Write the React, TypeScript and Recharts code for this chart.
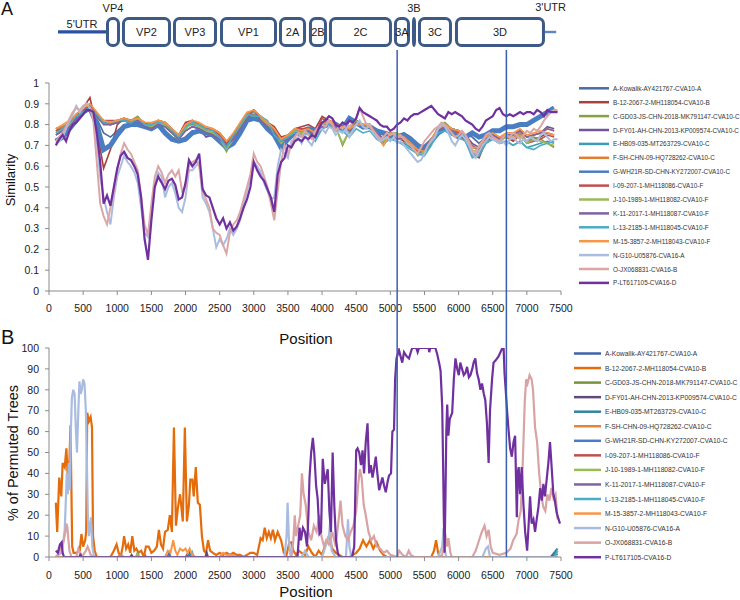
import React from 'react';
import { LineChart, Line, XAxis, YAxis, ReferenceArea, ReferenceLine } from 'recharts';

const FONT = "'Liberation Sans', Arial, Helvetica, sans-serif";

const SERIES_NAMES = [
  'A-Kowalik-AY421767-CVA10-A',
  'B-12-2067-2-MH118054-CVA10-B',
  'C-GD03-JS-CHN-2018-MK791147-CVA10-C',
  'D-FY01-AH-CHN-2013-KP009574-CVA10-C',
  'E-HB09-035-MT263729-CVA10-C',
  'F-SH-CHN-09-HQ728262-CVA10-C',
  'G-WH21R-SD-CHN-KY272007-CVA10-C',
  'I-09-207-1-MH118086-CVA10-F',
  'J-10-1989-1-MH118082-CVA10-F',
  'K-11-2017-1-MH118087-CVA10-F',
  'L-13-2185-1-MH118045-CVA10-F',
  'M-15-3857-2-MH118043-CVA10-F',
  'N-G10-U05876-CVA16-A',
  'O-JX068831-CVA16-B',
  'P-LT617105-CVA16-D',
];

const COLORS_A = ['#4A6CA3', '#A5403D', '#86A046', '#6E5596', '#3E9DB5', '#E07F34', '#4A7EC3', '#C0504D', '#9BBB59', '#8064A2', '#4BACC6', '#F79646', '#AABDE0', '#DBA6A6', '#7030A0'];
const COLORS_B = ['#3E65AA', '#E46C0A', '#77933C', '#604A7B', '#31859C', '#E8833A', '#4A7BC8', '#C0504D', '#9BBB59', '#8064A2', '#4BACC6', '#F79646', '#A9BCE0', '#D9A3A3', '#7030A0'];

const X_TICKS = [0, 500, 1000, 1500, 2000, 2500, 3000, 3500, 4000, 4500, 5000, 5500, 6000, 6500, 7000, 7500];
const Y_TICKS_A = [0, 0.1, 0.2, 0.3, 0.4, 0.5, 0.6, 0.7, 0.8, 0.9, 1];
const Y_TICKS_B = [0, 10, 20, 30, 40, 50, 60, 70, 80, 90, 100];

// genome map
const GENES = ['VP4', 'VP2', 'VP3', 'VP1', '2A', '2B', '2C', '3A', '3B', '3C', '3D'];
const GENE_START = [835, 1069, 1816, 2505, 3369, 3808, 4101, 5053, 5317, 5405, 5947];
const GENE_END = [1040, 1787, 2461, 3340, 3765, 4072, 5024, 5288, 5376, 5903, 7265];
const GENES_LABEL_ABOVE = ['VP4', '3B'];
const UTR_NAMES = ["5'UTR", "3'UTR"];
const UTR_START = [132, 7265];
const UTR_END = [835, 7430];
const BREAKPOINTS = [5100, 6700];

const POS100 = [
  100, 200, 300, 400, 500, 600, 700, 800, 900, 1000,
  1100, 1200, 1300, 1400, 1500, 1600, 1700, 1800, 1900, 2000,
  2100, 2200, 2300, 2400, 2500, 2600, 2700, 2800, 2900, 3000,
  3100, 3200, 3300, 3400, 3500, 3600, 3700, 3800, 3900, 4000,
  4100, 4200, 4300, 4400, 4500, 4600, 4700, 4800, 4900, 5000,
  5100, 5200, 5300, 5400, 5500, 5600, 5700, 5800, 5900, 6000,
  6100, 6200, 6300, 6400, 6500, 6600, 6700, 6800, 6900, 7000,
  7100, 7200, 7300, 7400];

const POS50 = [
  100, 150, 200, 250, 300, 350, 400, 450, 500, 550,
  600, 650, 700, 750, 800, 850, 900, 950, 1000, 1050,
  1100, 1150, 1200, 1250, 1300, 1350, 1400, 1450, 1500, 1550,
  1600, 1650, 1700, 1750, 1800, 1850, 1900, 1950, 2000, 2050,
  2100, 2150, 2200, 2250, 2300, 2350, 2400, 2450, 2500, 2550,
  2600, 2650, 2700, 2750, 2800, 2850, 2900, 2950, 3000, 3050,
  3100, 3150, 3200, 3250, 3300, 3350, 3400, 3450, 3500, 3550,
  3600, 3650, 3700, 3750, 3800, 3850, 3900, 3950, 4000, 4050,
  4100, 4150, 4200, 4250, 4300, 4350, 4400, 4450, 4500, 4550,
  4600, 4650, 4700, 4750, 4800, 4850, 4900, 4950, 5000, 5050,
  5100, 5150, 5200, 5250, 5300, 5350, 5400, 5450, 5500, 5550,
  5600, 5650, 5700, 5750, 5800, 5850, 5900, 5950, 6000, 6050,
  6100, 6150, 6200, 6250, 6300, 6350, 6400, 6450, 6500, 6550,
  6600, 6650, 6700, 6750, 6800, 6850, 6900, 6950, 7000, 7050,
  7100, 7150, 7200, 7250, 7300, 7350, 7400, 7450];

// ---- Panel A: similarity (values on POS100) ----
const SIM_A = [
  0.72, 0.75, 0.79, 0.83, 0.86, 0.88, 0.83, 0.76, 0.74, 0.77,
  0.80, 0.80, 0.81, 0.79, 0.78, 0.80, 0.77, 0.74, 0.72, 0.74,
  0.77, 0.77, 0.76, 0.75, 0.72, 0.69, 0.72, 0.77, 0.82, 0.84,
  0.82, 0.79, 0.74, 0.69, 0.73, 0.76, 0.77, 0.78, 0.77, 0.79,
  0.80, 0.79, 0.78, 0.83, 0.81, 0.79, 0.79, 0.76, 0.75, 0.76,
  0.75, 0.76, 0.74, 0.70, 0.70, 0.73, 0.76, 0.78, 0.77, 0.76,
  0.75, 0.74, 0.71, 0.74, 0.77, 0.77, 0.78, 0.79, 0.80, 0.80,
  0.82, 0.84, 0.86, 0.87];
const SIM_B = [
  0.78, 0.79, 0.80, 0.84, 0.88, 0.93, 0.78, 0.59, 0.68, 0.80,
  0.83, 0.82, 0.83, 0.81, 0.80, 0.82, 0.81, 0.78, 0.75, 0.81,
  0.82, 0.80, 0.78, 0.78, 0.76, 0.72, 0.75, 0.80, 0.85, 0.87,
  0.84, 0.81, 0.79, 0.74, 0.75, 0.78, 0.79, 0.80, 0.78, 0.84,
  0.82, 0.80, 0.77, 0.78, 0.81, 0.79, 0.80, 0.76, 0.73, 0.75,
  0.74, 0.72, 0.70, 0.68, 0.68, 0.72, 0.77, 0.79, 0.78, 0.77,
  0.73, 0.66, 0.64, 0.72, 0.74, 0.73, 0.74, 0.72, 0.75, 0.72,
  0.73, 0.74, 0.76, 0.75];
const SIM_C = [
  0.77, 0.79, 0.81, 0.85, 0.87, 0.88, 0.83, 0.81, 0.80, 0.82,
  0.83, 0.82, 0.84, 0.80, 0.78, 0.81, 0.80, 0.76, 0.73, 0.78,
  0.81, 0.79, 0.77, 0.75, 0.73, 0.67, 0.73, 0.78, 0.83, 0.85,
  0.82, 0.80, 0.76, 0.71, 0.73, 0.76, 0.75, 0.76, 0.74, 0.79,
  0.81, 0.79, 0.70, 0.77, 0.82, 0.79, 0.80, 0.75, 0.72, 0.76,
  0.75, 0.74, 0.71, 0.66, 0.68, 0.72, 0.79, 0.81, 0.78, 0.77,
  0.75, 0.66, 0.67, 0.73, 0.75, 0.73, 0.75, 0.74, 0.76, 0.72,
  0.74, 0.73, 0.71, 0.69];
const SIM_D = [
  0.75, 0.77, 0.79, 0.83, 0.86, 0.89, 0.85, 0.81, 0.80, 0.81,
  0.82, 0.81, 0.82, 0.79, 0.78, 0.80, 0.79, 0.76, 0.73, 0.77,
  0.79, 0.78, 0.74, 0.75, 0.73, 0.71, 0.73, 0.78, 0.83, 0.86,
  0.82, 0.79, 0.76, 0.72, 0.74, 0.76, 0.75, 0.76, 0.75, 0.79,
  0.81, 0.79, 0.78, 0.77, 0.82, 0.80, 0.80, 0.76, 0.73, 0.76,
  0.73, 0.74, 0.71, 0.69, 0.69, 0.73, 0.77, 0.79, 0.78, 0.77,
  0.75, 0.71, 0.69, 0.74, 0.75, 0.73, 0.75, 0.75, 0.77, 0.74,
  0.75, 0.76, 0.79, 0.78];
const SIM_E = [
  0.77, 0.78, 0.81, 0.84, 0.87, 0.89, 0.84, 0.81, 0.80, 0.81,
  0.82, 0.80, 0.82, 0.80, 0.79, 0.81, 0.80, 0.77, 0.74, 0.79,
  0.80, 0.79, 0.77, 0.76, 0.73, 0.69, 0.74, 0.79, 0.84, 0.86,
  0.84, 0.80, 0.76, 0.71, 0.73, 0.76, 0.74, 0.76, 0.74, 0.78,
  0.81, 0.78, 0.78, 0.76, 0.80, 0.78, 0.79, 0.74, 0.71, 0.74,
  0.72, 0.71, 0.69, 0.67, 0.66, 0.71, 0.77, 0.78, 0.76, 0.75,
  0.73, 0.65, 0.66, 0.71, 0.73, 0.71, 0.72, 0.70, 0.72, 0.69,
  0.70, 0.71, 0.72, 0.71];
const SIM_F = [
  0.78, 0.79, 0.81, 0.85, 0.88, 0.90, 0.85, 0.82, 0.81, 0.82,
  0.83, 0.82, 0.83, 0.81, 0.80, 0.82, 0.81, 0.78, 0.75, 0.79,
  0.81, 0.80, 0.79, 0.78, 0.75, 0.71, 0.75, 0.80, 0.85, 0.87,
  0.84, 0.81, 0.78, 0.73, 0.75, 0.77, 0.77, 0.78, 0.76, 0.80,
  0.82, 0.81, 0.79, 0.78, 0.81, 0.79, 0.80, 0.75, 0.70, 0.75,
  0.73, 0.73, 0.70, 0.68, 0.67, 0.72, 0.77, 0.79, 0.77, 0.76,
  0.74, 0.69, 0.68, 0.73, 0.76, 0.74, 0.75, 0.74, 0.76, 0.74,
  0.75, 0.76, 0.78, 0.77];
const SIM_G = [
  0.72, 0.74, 0.78, 0.82, 0.86, 0.88, 0.80, 0.68, 0.70, 0.75,
  0.79, 0.80, 0.80, 0.79, 0.78, 0.80, 0.76, 0.73, 0.72, 0.73,
  0.76, 0.77, 0.76, 0.75, 0.72, 0.69, 0.71, 0.76, 0.82, 0.83,
  0.82, 0.78, 0.75, 0.69, 0.73, 0.76, 0.77, 0.78, 0.77, 0.79,
  0.80, 0.80, 0.78, 0.83, 0.81, 0.79, 0.79, 0.77, 0.76, 0.75,
  0.74, 0.75, 0.73, 0.70, 0.68, 0.72, 0.76, 0.78, 0.76, 0.74,
  0.74, 0.76, 0.74, 0.75, 0.77, 0.77, 0.79, 0.79, 0.80, 0.80,
  0.82, 0.84, 0.86, 0.88];
const SIM_I = [
  0.77, 0.78, 0.80, 0.85, 0.87, 0.90, 0.85, 0.82, 0.82, 0.82,
  0.83, 0.82, 0.82, 0.81, 0.79, 0.81, 0.81, 0.77, 0.74, 0.80,
  0.82, 0.80, 0.78, 0.77, 0.75, 0.71, 0.74, 0.79, 0.84, 0.86,
  0.83, 0.80, 0.77, 0.73, 0.74, 0.78, 0.78, 0.78, 0.76, 0.83,
  0.81, 0.79, 0.78, 0.77, 0.81, 0.80, 0.80, 0.76, 0.73, 0.76,
  0.74, 0.73, 0.70, 0.67, 0.67, 0.73, 0.78, 0.80, 0.78, 0.76,
  0.72, 0.65, 0.65, 0.73, 0.75, 0.73, 0.74, 0.73, 0.75, 0.71,
  0.72, 0.73, 0.75, 0.74];
const SIM_J = [
  0.76, 0.77, 0.80, 0.84, 0.86, 0.88, 0.84, 0.81, 0.81, 0.82,
  0.82, 0.81, 0.83, 0.80, 0.79, 0.81, 0.80, 0.76, 0.73, 0.78,
  0.81, 0.79, 0.77, 0.76, 0.73, 0.68, 0.73, 0.79, 0.84, 0.86,
  0.83, 0.80, 0.76, 0.71, 0.74, 0.77, 0.76, 0.77, 0.75, 0.80,
  0.81, 0.79, 0.71, 0.77, 0.82, 0.79, 0.79, 0.76, 0.72, 0.76,
  0.76, 0.73, 0.71, 0.65, 0.67, 0.72, 0.78, 0.80, 0.78, 0.77,
  0.75, 0.67, 0.68, 0.73, 0.75, 0.72, 0.74, 0.73, 0.75, 0.71,
  0.73, 0.72, 0.71, 0.70];
const SIM_K = [
  0.75, 0.77, 0.79, 0.83, 0.86, 0.88, 0.84, 0.80, 0.80, 0.81,
  0.82, 0.81, 0.82, 0.79, 0.78, 0.80, 0.79, 0.76, 0.73, 0.77,
  0.79, 0.78, 0.76, 0.75, 0.73, 0.70, 0.73, 0.78, 0.83, 0.87,
  0.82, 0.79, 0.76, 0.72, 0.73, 0.76, 0.75, 0.77, 0.75, 0.79,
  0.80, 0.79, 0.78, 0.77, 0.81, 0.79, 0.80, 0.76, 0.73, 0.76,
  0.73, 0.74, 0.71, 0.68, 0.68, 0.73, 0.77, 0.79, 0.78, 0.77,
  0.75, 0.70, 0.68, 0.73, 0.75, 0.73, 0.75, 0.75, 0.77, 0.74,
  0.75, 0.76, 0.78, 0.77];
const SIM_L = [
  0.76, 0.78, 0.81, 0.84, 0.86, 0.88, 0.85, 0.81, 0.81, 0.82,
  0.82, 0.81, 0.83, 0.80, 0.80, 0.81, 0.81, 0.77, 0.74, 0.79,
  0.81, 0.80, 0.78, 0.77, 0.74, 0.69, 0.75, 0.80, 0.85, 0.84,
  0.84, 0.82, 0.75, 0.72, 0.74, 0.76, 0.75, 0.76, 0.72, 0.78,
  0.80, 0.77, 0.77, 0.74, 0.78, 0.76, 0.77, 0.73, 0.71, 0.73,
  0.72, 0.70, 0.68, 0.66, 0.65, 0.70, 0.76, 0.77, 0.75, 0.74,
  0.72, 0.64, 0.65, 0.71, 0.73, 0.71, 0.72, 0.70, 0.72, 0.69,
  0.68, 0.70, 0.71, 0.72];
const SIM_M = [
  0.78, 0.80, 0.82, 0.85, 0.88, 0.90, 0.86, 0.82, 0.81, 0.82,
  0.83, 0.82, 0.83, 0.81, 0.81, 0.82, 0.81, 0.78, 0.75, 0.80,
  0.82, 0.81, 0.79, 0.78, 0.76, 0.72, 0.76, 0.81, 0.86, 0.87,
  0.84, 0.81, 0.78, 0.73, 0.75, 0.78, 0.77, 0.78, 0.76, 0.81,
  0.82, 0.80, 0.79, 0.78, 0.80, 0.80, 0.80, 0.75, 0.70, 0.76,
  0.74, 0.74, 0.71, 0.68, 0.67, 0.73, 0.78, 0.80, 0.78, 0.77,
  0.75, 0.69, 0.69, 0.74, 0.76, 0.74, 0.76, 0.76, 0.78, 0.75,
  0.76, 0.77, 0.76, 0.75];
// (values on POS50)
const SIM_N = [
  0.71, 0.72, 0.74, 0.78, 0.82, 0.85, 0.89, 0.86, 0.88, 0.90,
  0.88, 0.84, 0.72, 0.55, 0.45, 0.38, 0.32, 0.45, 0.55, 0.60,
  0.65, 0.62, 0.60, 0.57, 0.52, 0.40, 0.28, 0.26, 0.38, 0.52,
  0.57, 0.55, 0.45, 0.50, 0.52, 0.47, 0.40, 0.38, 0.45, 0.58,
  0.58, 0.60, 0.62, 0.45, 0.42, 0.38, 0.30, 0.21, 0.25, 0.22,
  0.25, 0.30, 0.27, 0.30, 0.34, 0.42, 0.48, 0.55, 0.62, 0.60,
  0.57, 0.52, 0.48, 0.44, 0.45, 0.60, 0.68, 0.66, 0.64, 0.72,
  0.73, 0.74, 0.71, 0.75, 0.72, 0.70, 0.74, 0.77, 0.78, 0.76,
  0.79, 0.78, 0.75, 0.77, 0.76, 0.78, 0.74, 0.77, 0.80, 0.82,
  0.79, 0.78, 0.80, 0.76, 0.74, 0.72, 0.73, 0.74, 0.72, 0.74,
  0.71, 0.72, 0.70, 0.68, 0.66, 0.64, 0.62, 0.63, 0.66, 0.70,
  0.72, 0.74, 0.78, 0.80, 0.79, 0.76, 0.72, 0.70, 0.73, 0.75,
  0.73, 0.70, 0.66, 0.64, 0.67, 0.70, 0.72, 0.74, 0.73, 0.72,
  0.71, 0.72, 0.70, 0.73, 0.74, 0.72, 0.71, 0.73, 0.72, 0.74,
  0.73, 0.72, 0.75, 0.76, 0.74, 0.72, 0.73, 0.73];
const SIM_O = [
  0.72, 0.74, 0.76, 0.79, 0.83, 0.86, 0.88, 0.87, 0.89, 0.90,
  0.88, 0.82, 0.62, 0.42, 0.36, 0.32, 0.40, 0.48, 0.58, 0.66,
  0.71, 0.68, 0.66, 0.62, 0.58, 0.45, 0.32, 0.27, 0.42, 0.55,
  0.60, 0.57, 0.52, 0.56, 0.58, 0.55, 0.58, 0.48, 0.50, 0.60,
  0.62, 0.63, 0.60, 0.48, 0.44, 0.40, 0.30, 0.28, 0.27, 0.22,
  0.18, 0.28, 0.32, 0.34, 0.38, 0.44, 0.50, 0.56, 0.66, 0.62,
  0.60, 0.55, 0.50, 0.42, 0.34, 0.48, 0.62, 0.70, 0.66, 0.70,
  0.74, 0.76, 0.74, 0.77, 0.75, 0.73, 0.77, 0.79, 0.80, 0.79,
  0.82, 0.80, 0.77, 0.79, 0.78, 0.80, 0.79, 0.81, 0.83, 0.88,
  0.84, 0.80, 0.79, 0.77, 0.75, 0.73, 0.74, 0.76, 0.75, 0.76,
  0.74, 0.75, 0.73, 0.71, 0.70, 0.68, 0.66, 0.69, 0.72, 0.74,
  0.76, 0.78, 0.79, 0.81, 0.80, 0.78, 0.76, 0.74, 0.75, 0.77,
  0.75, 0.72, 0.68, 0.66, 0.70, 0.72, 0.75, 0.76, 0.74, 0.73,
  0.72, 0.74, 0.75, 0.74, 0.76, 0.75, 0.73, 0.75, 0.77, 0.76,
  0.78, 0.77, 0.79, 0.82, 0.84, 0.86, 0.87, 0.87];
const SIM_P = [
  0.70, 0.73, 0.75, 0.72, 0.77, 0.80, 0.81, 0.83, 0.85, 0.87,
  0.87, 0.86, 0.76, 0.62, 0.42, 0.46, 0.41, 0.50, 0.59, 0.65,
  0.67, 0.64, 0.63, 0.60, 0.56, 0.45, 0.25, 0.15, 0.34, 0.50,
  0.55, 0.52, 0.49, 0.53, 0.54, 0.51, 0.44, 0.45, 0.52, 0.63,
  0.60, 0.62, 0.66, 0.49, 0.46, 0.45, 0.40, 0.35, 0.32, 0.35,
  0.30, 0.33, 0.29, 0.31, 0.35, 0.40, 0.44, 0.50, 0.62, 0.58,
  0.55, 0.53, 0.49, 0.45, 0.38, 0.56, 0.62, 0.64, 0.70, 0.69,
  0.72, 0.73, 0.72, 0.74, 0.73, 0.75, 0.74, 0.78, 0.81, 0.82,
  0.84, 0.83, 0.80, 0.79, 0.81, 0.80, 0.82, 0.81, 0.83, 0.88,
  0.86, 0.85, 0.84, 0.83, 0.82, 0.80, 0.79, 0.79, 0.77, 0.78,
  0.80, 0.81, 0.83, 0.82, 0.84, 0.85, 0.85, 0.86, 0.87, 0.88,
  0.89, 0.87, 0.85, 0.84, 0.83, 0.86, 0.85, 0.86, 0.85, 0.84,
  0.82, 0.81, 0.80, 0.78, 0.77, 0.79, 0.82, 0.83, 0.84, 0.87,
  0.88, 0.85, 0.84, 0.85, 0.84, 0.85, 0.86, 0.85, 0.86, 0.86,
  0.85, 0.87, 0.86, 0.84, 0.87, 0.86, 0.86, 0.86];

// ---- Panel B: bootscan, [position, % of permuted trees] ----
const BOOT_A = [[100, 0], [1380, 0], [1400, 1], [1420, 0], [7350, 0], [7400, 2], [7450, 1]];
const BOOT_B = [[100, 26], [120, 12], [150, 38], [180, 29], [200, 45], [230, 43], [255, 52], [280, 34], [300, 47], [315, 63], [340, 5], [360, 2], [400, 2], [450, 3], [475, 11], [500, 5], [530, 8], [545, 12], [560, 69], [585, 65], [610, 67], [630, 62], [645, 10], [670, 3], [700, 0], [900, 0], [950, 3], [990, 6], [1020, 2], [1050, 0], [1080, 5], [1100, 10], [1130, 4], [1160, 6], [1190, 2], [1220, 10], [1250, 3], [1280, 4], [1310, 2], [1350, 3], [1390, 0], [1420, 5], [1460, 5], [1500, 2], [1540, 3], [1580, 5], [1610, 13], [1640, 6], [1670, 4], [1700, 12], [1740, 13], [1770, 20], [1800, 12], [1830, 62], [1860, 15], [1890, 24], [1920, 30], [1960, 17], [1990, 62], [2020, 17], [2050, 25], [2070, 37], [2100, 37], [2120, 29], [2150, 43], [2180, 26], [2210, 25], [2240, 10], [2270, 3], [2300, 2], [2330, 8], [2360, 3], [2400, 2], [2450, 1], [2500, 2], [2550, 1], [2600, 2], [2650, 1], [2700, 2], [2750, 1], [2800, 1], [2850, 0], [2900, 1], [2950, 2], [3000, 2], [3050, 1], [3100, 9], [3130, 8], [3160, 14], [3190, 9], [3220, 12], [3250, 9], [3280, 13], [3310, 8], [3350, 12], [3400, 8], [3440, 2], [3480, 1], [3520, 7], [3550, 7], [3580, 3], [3620, 1], [3660, 3], [3700, 2], [3750, 1], [3800, 5], [3850, 2], [3900, 0], [3950, 3], [4000, 1], [4050, 6], [4100, 10], [4150, 4], [4200, 2], [4250, 1], [4300, 0], [4400, 0], [4450, 1], [4500, 2], [4550, 4], [4600, 8], [4650, 5], [4700, 8], [4750, 4], [4800, 7], [4850, 3], [4900, 1], [4950, 0], [5600, 0], [5640, 3], [5670, 8], [5700, 2], [5730, 0], [7450, 0]];
const BOOT_C = [[100, 0], [1280, 0], [1300, 2], [1320, 0], [7450, 0]];
const BOOT_D = [[100, 0], [1190, 0], [1210, 1], [1230, 0], [2290, 0], [2310, 2], [2330, 0], [7450, 0]];
const BOOT_E = [[100, 0], [1740, 0], [1760, 2], [1780, 0], [2040, 0], [2060, 2], [2080, 0], [7380, 0], [7420, 3], [7450, 4]];
const BOOT_F = [[100, 0], [1000, 0], [1050, 1], [1100, 0], [7450, 0]];
const BOOT_G = [[100, 0], [1740, 0], [1750, 1], [1770, 0], [7450, 0]];
const BOOT_I = [[100, 0], [2000, 0], [2020, 1], [2040, 0], [7450, 0]];
const BOOT_J = [[100, 0], [1280, 0], [1290, 2], [1310, 0], [7450, 0]];
const BOOT_K = [[100, 0], [450, 0], [460, 2], [480, 0], [7450, 0]];
const BOOT_L = [[100, 0], [2080, 0], [2100, 2], [2120, 0], [7400, 0], [7450, 3]];
const BOOT_M = [[100, 0], [1700, 0], [1740, 3], [1780, 2], [1820, 8], [1850, 3], [1880, 1], [1920, 4], [1960, 3], [2000, 4], [2030, 2], [2060, 4], [2100, 1], [2150, 0], [2500, 0], [2550, 2], [2600, 1], [2700, 1], [2750, 0], [7450, 0]];
const BOOT_N = [[100, 0], [180, 2], [200, 5], [230, 13], [250, 30], [260, 40], [275, 30], [290, 45], [305, 32], [320, 60], [335, 76], [355, 80], [375, 78], [395, 60], [410, 50], [430, 70], [445, 84], [465, 78], [480, 80], [500, 85], [520, 83], [540, 70], [555, 45], [570, 18], [585, 10], [600, 15], [615, 19], [635, 5], [660, 0], [3450, 0], [3480, 10], [3495, 26], [3515, 8], [3540, 0], [3700, 0], [3750, 3], [3800, 0], [4000, 0], [4050, 5], [4100, 10], [4120, 17], [4140, 3], [4200, 0], [4350, 0], [4380, 18], [4400, 5], [4430, 0], [5700, 0], [5760, 5], [5780, 14], [5800, 3], [5820, 0], [6350, 0], [6400, 4], [6430, 5], [6460, 0], [7450, 0]];
const BOOT_O = [[100, 0], [150, 2], [180, 6], [210, 7], [240, 12], [255, 16], [270, 14], [285, 8], [300, 3], [330, 0], [400, 0], [430, 4], [450, 2], [480, 0], [540, 3], [565, 5], [590, 3], [610, 1], [650, 0], [3550, 0], [3580, 8], [3600, 20], [3620, 10], [3650, 15], [3680, 20], [3705, 40], [3730, 30], [3760, 25], [3800, 12], [3840, 8], [3880, 15], [3920, 12], [3960, 20], [3990, 10], [4030, 5], [4060, 8], [4100, 6], [4150, 12], [4200, 5], [4250, 20], [4270, 27], [4300, 15], [4340, 10], [4380, 8], [4420, 12], [4460, 15], [4500, 22], [4530, 35], [4555, 42], [4580, 38], [4610, 25], [4640, 20], [4680, 12], [4720, 8], [4760, 10], [4800, 5], [4850, 4], [4900, 2], [4950, 3], [5000, 1], [5100, 0], [5130, 3], [5180, 1], [5230, 0], [5270, 3], [5300, 1], [5350, 0], [5750, 0], [5780, 4], [5800, 12], [5830, 5], [5850, 9], [5880, 2], [5900, 0], [6200, 0], [6250, 3], [6300, 8], [6340, 12], [6380, 15], [6410, 10], [6440, 13], [6470, 5], [6500, 2], [6600, 1], [6700, 2], [6760, 4], [6800, 8], [6850, 11], [6880, 18], [6910, 22], [6940, 45], [6970, 75], [6990, 85], [7010, 83], [7040, 87], [7070, 85], [7090, 80], [7120, 62], [7150, 55], [7180, 40], [7210, 30], [7240, 24], [7270, 22], [7300, 30], [7330, 27], [7360, 33], [7390, 28], [7420, 30], [7450, 18]];
const BOOT_P = [[100, 3], [130, 2], [160, 6], [185, 7], [200, 2], [220, 0], [440, 0], [460, 1], [480, 0], [3640, 0], [3670, 14], [3690, 8], [3720, 14], [3750, 12], [3780, 5], [3800, 20], [3816, 38], [3840, 50], [3865, 57], [3885, 50], [3913, 34], [3935, 28], [3962, 11], [3985, 12], [4010, 47], [4040, 35], [4083, 42], [4107, 22], [4130, 12], [4155, 50], [4180, 24], [4204, 8], [4230, 2], [4253, 0], [4440, 0], [4471, 5], [4500, 51], [4520, 52], [4544, 50], [4570, 44], [4593, 51], [4615, 40], [4640, 55], [4666, 64], [4690, 40], [4715, 44], [4739, 38], [4760, 42], [4787, 48], [4810, 40], [4836, 32], [4860, 35], [4884, 38], [4910, 34], [4933, 31], [4960, 36], [4981, 39], [5010, 40], [5030, 60], [5054, 61], [5070, 85], [5090, 95], [5127, 99], [5150, 96], [5175, 93], [5200, 98], [5240, 96], [5273, 95], [5300, 98], [5321, 100], [5380, 100], [5400, 98], [5420, 100], [5560, 100], [5570, 98], [5585, 100], [5660, 100], [5687, 97], [5720, 92], [5736, 89], [5760, 72], [5775, 40], [5784, 18], [5795, 2], [5808, 30], [5820, 60], [5833, 73], [5850, 58], [5870, 66], [5906, 69], [5930, 85], [5954, 95], [5980, 90], [6003, 87], [6025, 93], [6050, 90], [6076, 87], [6100, 88], [6124, 91], [6150, 86], [6173, 87], [6200, 90], [6220, 93], [6245, 95], [6270, 88], [6294, 85], [6320, 80], [6343, 83], [6370, 78], [6391, 75], [6415, 64], [6440, 45], [6460, 70], [6490, 85], [6512, 93], [6540, 94], [6585, 96], [6634, 99.5], [6660, 99.5], [6673, 88], [6690, 80], [6710, 70], [6731, 61], [6755, 52], [6780, 48], [6805, 55], [6828, 58], [6853, 19], [6866, 40], [6880, 43], [6900, 30], [6925, 43], [6950, 25], [6975, 12], [7004, 3], [7025, 15], [7047, 29], [7070, 16], [7096, 18], [7120, 12], [7144, 18], [7170, 24], [7195, 33], [7220, 27], [7242, 35], [7265, 29], [7290, 37], [7315, 45], [7339, 55], [7365, 42], [7388, 30], [7410, 27], [7437, 21], [7485, 16]];

const pts = (xs: number[], ys: number[]) => xs.map((x, i) => ({ x, y: ys[i] }));
const pairs = (ps: number[][]) => ps.map(([x, y]) => ({ x, y }));

const SERIES_A = [
  pts(POS100, SIM_A), pts(POS100, SIM_B), pts(POS100, SIM_C), pts(POS100, SIM_D),
  pts(POS100, SIM_E), pts(POS100, SIM_F), pts(POS100, SIM_G), pts(POS100, SIM_I),
  pts(POS100, SIM_J), pts(POS100, SIM_K), pts(POS100, SIM_L), pts(POS100, SIM_M),
  pts(POS50, SIM_N), pts(POS50, SIM_O), pts(POS50, SIM_P),
];
const SERIES_B = [
  BOOT_A, BOOT_B, BOOT_C, BOOT_D, BOOT_E, BOOT_F, BOOT_G, BOOT_I,
  BOOT_J, BOOT_K, BOOT_L, BOOT_M, BOOT_N, BOOT_O, BOOT_P,
].map(pairs);

const WIDTHS_A = [1.6, 1.6, 1.6, 1.6, 1.6, 1.6, 5, 1.6, 1.6, 1.6, 1.6, 1.6, 2, 2, 2.2];
const WIDTHS_B = [2, 2.2, 2, 2, 2, 2, 2, 2, 2, 2, 2, 2, 2.2, 2.2, 2.2];

const AXIS_COLOR = '#8a8a8a';
const TICK_STYLE = { fontSize: 10.5, fill: '#1a1a1a', fontFamily: FONT };

type PanelProps = {
  top: number; height: number; marginTop: number; marginBottom: number; xAxisHeight: number;
  series: { x: number; y: number }[][]; colors: string[]; widths: number[];
  yDomain: number[]; yTicks: number[]; xTickMargin: number;
};

function Panel(p: PanelProps) {
  return (
    <div style={{ position: 'absolute', left: 0, top: p.top, width: 740, height: p.height }}>
      <LineChart width={740} height={p.height} margin={{ top: p.marginTop, right: 179, bottom: p.marginBottom, left: 0 }}>
        <XAxis dataKey="x" type="number" domain={[0, 7500]} ticks={X_TICKS} interval={0} allowDataOverflow
          height={p.xAxisHeight} tickSize={4} tickMargin={p.xTickMargin} stroke={AXIS_COLOR} tick={TICK_STYLE} />
        <YAxis type="number" domain={p.yDomain} ticks={p.yTicks} interval={0} allowDataOverflow width={49}
          tickSize={4} tickMargin={6} stroke={AXIS_COLOR} tick={TICK_STYLE} />
        {p.series.map((d, i) => (
          <Line key={SERIES_NAMES[i]} name={SERIES_NAMES[i]} data={d} dataKey="y" type="linear"
            stroke={p.colors[i]} strokeWidth={p.widths[i]} dot={false} activeDot={false}
            isAnimationActive={false} />
        ))}
      </LineChart>
    </div>
  );
}

function GenomeMap() {
  return (
    <div style={{ position: 'absolute', left: 0, top: 0, width: 740, height: 60 }}>
      <LineChart width={740} height={60} margin={{ top: 0, right: 179, bottom: 0, left: 49 }}>
        <XAxis dataKey="x" type="number" domain={[0, 7500]} hide allowDataOverflow />
        <YAxis type="number" domain={[0, 60]} reversed hide allowDataOverflow />
        {UTR_NAMES.map((n, i) => (
          <ReferenceArea key={n} x1={UTR_START[i]} x2={UTR_END[i]} y1={i === 0 ? 30.2 : 30.8} y2={i === 0 ? 33.6 : 33.2}
            fill={i === 0 ? '#2C51A0' : '#5B86C8'} fillOpacity={1} stroke="none" ifOverflow="visible"
            label={{ value: n, position: 'top', offset: i === 0 ? 2 : 19.5, fill: '#222', fontSize: 11, fontFamily: FONT }} />
        ))}
        {GENES.map((g, i) => (
          <ReferenceArea key={g} x1={GENE_START[i]} x2={GENE_END[i]} y1={18.5} y2={45.5} ifOverflow="visible"
            shape={(s: any) => (
              <rect x={s.x + 1.5} y={s.y} width={Math.max(s.width - 3, 0.5)} height={s.height} rx={5} ry={5}
                fill="#ffffff" stroke="#3D5A86" strokeWidth={3} />
            )}
            label={{ value: g, position: GENES_LABEL_ABOVE.includes(g) ? 'top' : 'center', offset: 7, fill: '#222', fontSize: 11, fontFamily: FONT }} />
        ))}
      </LineChart>
    </div>
  );
}

function BreakpointLines() {
  return (
    <div style={{ position: 'absolute', left: 0, top: 50, width: 740, height: 507, pointerEvents: 'none' }}>
      <LineChart width={740} height={507} margin={{ top: 0, right: 179, bottom: 0, left: 49 }}>
        <XAxis dataKey="x" type="number" domain={[0, 7500]} hide allowDataOverflow />
        <YAxis type="number" domain={[0, 1]} hide allowDataOverflow />
        {BREAKPOINTS.map((b) => (
          <ReferenceLine key={b} x={b} stroke="#3B5FAF" strokeWidth={1.5} />
        ))}
      </LineChart>
    </div>
  );
}

function Legend({ colors, x0, y0, step, lineW, fontSize }: { colors: string[]; x0: number; y0: number; step: number; lineW: number; fontSize: number }) {
  return (
    <g>
      {SERIES_NAMES.map((n, i) => (
        <g key={n}>
          <line x1={x0} x2={x0 + lineW} y1={y0 + i * step} y2={y0 + i * step} stroke={colors[i]} strokeWidth={2.5} />
          <text x={x0 + lineW + 4} y={y0 + i * step} dominantBaseline="central" fontSize={fontSize} fill="#333" fontFamily={FONT}>{n}</text>
        </g>
      ))}
    </g>
  );
}

export default function App() {
  return (
    <div style={{ position: 'absolute', left: 0, top: 0, width: 740, height: 600, background: '#fff', fontFamily: FONT, overflow: 'hidden' }}>
      <GenomeMap />
      <Panel top={70} height={250} marginTop={13} marginBottom={0} xAxisHeight={29} series={SERIES_A}
        colors={COLORS_A} widths={WIDTHS_A} yDomain={[0, 1]} yTicks={Y_TICKS_A} xTickMargin={10} />
      <Panel top={335} height={255} marginTop={13} marginBottom={3} xAxisHeight={30} series={SERIES_B}
        colors={COLORS_B} widths={WIDTHS_B} yDomain={[0, 100]} yTicks={Y_TICKS_B} xTickMargin={11} />
      <BreakpointLines />
      <svg width={740} height={600} style={{ position: 'absolute', left: 0, top: 0, pointerEvents: 'none' }}>
        <text x={1} y={15} fontSize={18} fill="#111" fontFamily={FONT}>A</text>
        <text x={1} y={344} fontSize={20} fill="#111" fontFamily={FONT}>B</text>
        <text transform="translate(10,180) rotate(-90)" textAnchor="middle" dominantBaseline="central" fontSize={13} fill="#111" fontFamily={FONT}>Similarity</text>
        <text x={306} y={338} textAnchor="middle" dominantBaseline="central" fontSize={15} fill="#111" fontFamily={FONT}>Position</text>
        <text transform="translate(13,453) rotate(-90)" textAnchor="middle" dominantBaseline="central" fontSize={14.5} fill="#111" fontFamily={FONT}>% of Permuted Trees</text>
        <text x={306} y={591} textAnchor="middle" dominantBaseline="central" fontSize={15} fill="#111" fontFamily={FONT}>Position</text>
        <Legend colors={COLORS_A} x0={579} y0={88.3} step={13.9} lineW={30} fontSize={6.4} />
        <Legend colors={COLORS_B} x0={574} y0={353.5} step={14.55} lineW={27} fontSize={6.7} />
      </svg>
    </div>
  );
}
